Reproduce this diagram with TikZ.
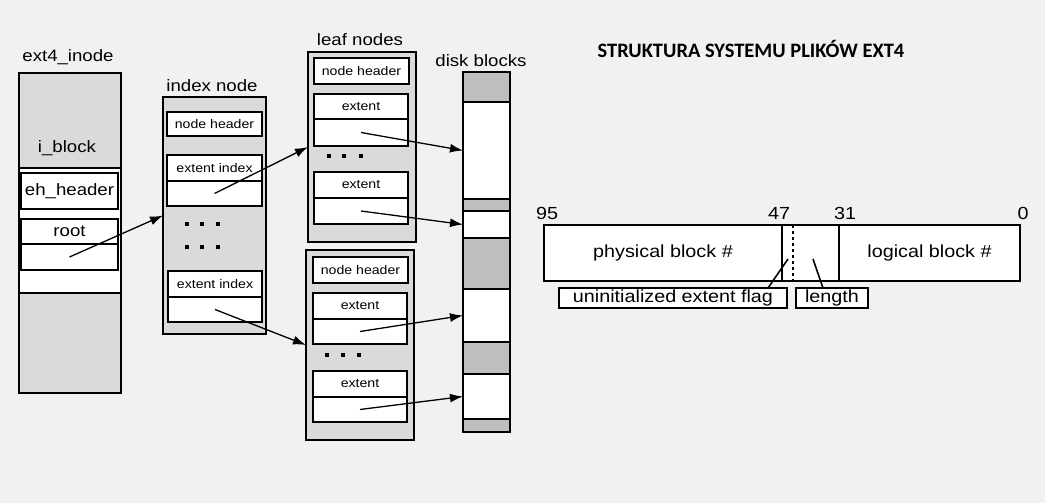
\documentclass[tikz,border=0pt]{standalone}
\usepackage{fontspec}
\setmainfont{Liberation Sans}[FakeStretch=1.13]
\newfontfamily\titlefont{Carlito}
\usetikzlibrary{arrows.meta}
\definecolor{paper}{HTML}{F1F1F1}
\definecolor{lightfill}{HTML}{DADADA}
\definecolor{darkfill}{HTML}{BEBEBE}
\tikzset{
  frame/.style={draw, line width=1.6pt, fill=lightfill, anchor=north west, inner sep=0pt, outer sep=0pt},
  cell/.style={draw, line width=1.6pt, fill=white, anchor=north west, inner sep=0pt, outer sep=0pt, font=\fontsize{12.5}{14}\selectfont},
  bigtext/.style={inner sep=0pt, font=\fontsize{16.5}{19}\selectfont},
  midtext/.style={font=\fontsize{17.5}{20}\selectfont},
  seg/.style={draw, line width=1.6pt, anchor=north west, inner sep=0pt, outer sep=0pt, minimum width=47},
  ptr/.style={line width=1.3pt, -{Latex[length=13pt,width=9pt]}},
}
\begin{document}
\begin{tikzpicture}[x=1pt,y=-1pt]
    \fill[paper] (0,0) rectangle (1045,503);

    % ext4 inode
    \node[bigtext] (inodelbl) at (68,57) {ext4\_inode};
    \node[frame, minimum width=102, minimum height=320] (inode) at (19,73) {};
    \node[frame, fill=white, minimum width=102, minimum height=125] (iblock) at (19,168) {};
    \node[bigtext] (iblocklbl) at (67,148) {i\_block};
    \node[cell, line width=2.2pt, bigtext, minimum width=97, minimum height=36] (ehhdr) at (21,173) {eh\_header};
    \node[cell, bigtext, minimum width=97, minimum height=25] (root) at (21,219) {root};
    \node[cell, minimum width=97, minimum height=26] (rootptr) at (21,244) {};

    % index node
    \node[bigtext] (indexlbl) at (212,86) {index node};
    \node[frame, minimum width=103, minimum height=237] (index) at (163,97) {};
    \node[cell, minimum width=95, minimum height=24] (ixhdr) at (167,112) {node header};
    \node[cell, minimum width=95, minimum height=26] (ix1) at (167,155) {extent index};
    \node[cell, minimum width=95, minimum height=25] (ix1ptr) at (167,181) {};
    \node[cell, minimum width=94, minimum height=26] (ix2) at (168,271) {extent index};
    \node[cell, minimum width=94, minimum height=25] (ix2ptr) at (168,297) {};
    \foreach \x in {187,202,218} {
        \foreach \y in {224,247} {
            \fill (\x-2,\y-2) rectangle ++(4,4);
        }
    }

    % leaf nodes
    \node[bigtext] (leaflbl) at (360,40) {leaf nodes};
    \node[frame, minimum width=108, minimum height=190] (leafa) at (308,52) {};
    \node[cell, minimum width=95, minimum height=26] (lahdr) at (314,58) {node header};
    \node[cell, minimum width=94, minimum height=25] (la1) at (314,94) {extent};
    \node[cell, minimum width=94, minimum height=27] (la1ptr) at (314,119) {};
    \node[cell, minimum width=94, minimum height=26] (la2) at (314,172) {extent};
    \node[cell, minimum width=94, minimum height=26] (la2ptr) at (314,198) {};
    \node[frame, minimum width=108, minimum height=190] (leafb) at (306,250) {};
    \node[cell, minimum width=95, minimum height=26] (lbhdr) at (313,257) {node header};
    \node[cell, minimum width=94, minimum height=26] (lb1) at (313,293) {extent};
    \node[cell, minimum width=94, minimum height=25] (lb1ptr) at (313,319) {};
    \node[cell, minimum width=94, minimum height=26] (lb2) at (313,371) {extent};
    \node[cell, minimum width=94, minimum height=25] (lb2ptr) at (313,397) {};
    \foreach \x in {329,344,361} \fill (\x-2,154) rectangle ++(4,4);
    \foreach \x in {327,343,359} \fill (\x-2,353) rectangle ++(4,4);

    % disk blocks
    \node[bigtext] (disklbl) at (481,61) {disk blocks};
    \foreach \i/\ya/\yb/\c in {1/72/102/darkfill, 2/102/199/white, 3/199/211/darkfill,
        4/211/238/white, 5/238/289/darkfill, 6/289/342/white, 7/342/374/darkfill,
        8/374/419/white, 9/419/432/darkfill} {
        \node[seg, fill=\c, minimum height=\yb-\ya] (d\i) at (463,\ya) {};
    }

    \draw[ptr] (rootptr.center) -- (index.west);
    \draw[ptr] (ix1ptr.center) -- (leafa.west);
    \draw[ptr] (ix2ptr.center) -- (leafb.west);
    \draw[ptr] (la1ptr.center) -- (d2.west);
    \draw[ptr] (la2ptr.center) -- (d4.west);
    \draw[ptr] (lb1ptr.center) -- (d6.west);
    \draw[ptr] (lb2ptr.center) -- (d8.west);

    % extent layout
    \node[font=\titlefont\bfseries\fontsize{20.5}{24}\selectfont] (title) at (751,49) {STRUKTURA SYSTEMU PLIKÓW EXT4};
    \node[cell, midtext, minimum width=238, minimum height=56] (phys) at (544,225) {physical block \#};
    \node[cell, minimum width=57, minimum height=56] (lenfld) at (782,225) {};
    \node[cell, midtext, minimum width=181, minimum height=56] (logical) at (839,225) {logical block \#};
    \draw[dashed, line width=1.4pt] ([xshift=11pt]lenfld.north west) -- ([xshift=11pt]lenfld.south west);
    \node[midtext, inner sep=0pt] (b95) at (547,213) {95};
    \node[midtext, inner sep=0pt] (b47) at (779,213) {47};
    \node[midtext, inner sep=0pt] (b31) at (845,213) {31};
    \node[midtext, inner sep=0pt] (b0) at (1023,213) {0};
    \node[cell, midtext, minimum width=228, minimum height=20] (flag) at (559,288) {uninitialized extent flag};
    \node[cell, midtext, minimum width=72, minimum height=20] (len) at (796,288) {length};
    \coordinate (flagtip) at (788,259);
    \coordinate (lentip) at (813,259);
    \draw[line width=1.6pt] ([xshift=-19pt]flag.north east) -- (flagtip);
    \draw[line width=1.6pt] ([xshift=27pt]len.north west) -- (lentip);
\end{tikzpicture}
\end{document}
